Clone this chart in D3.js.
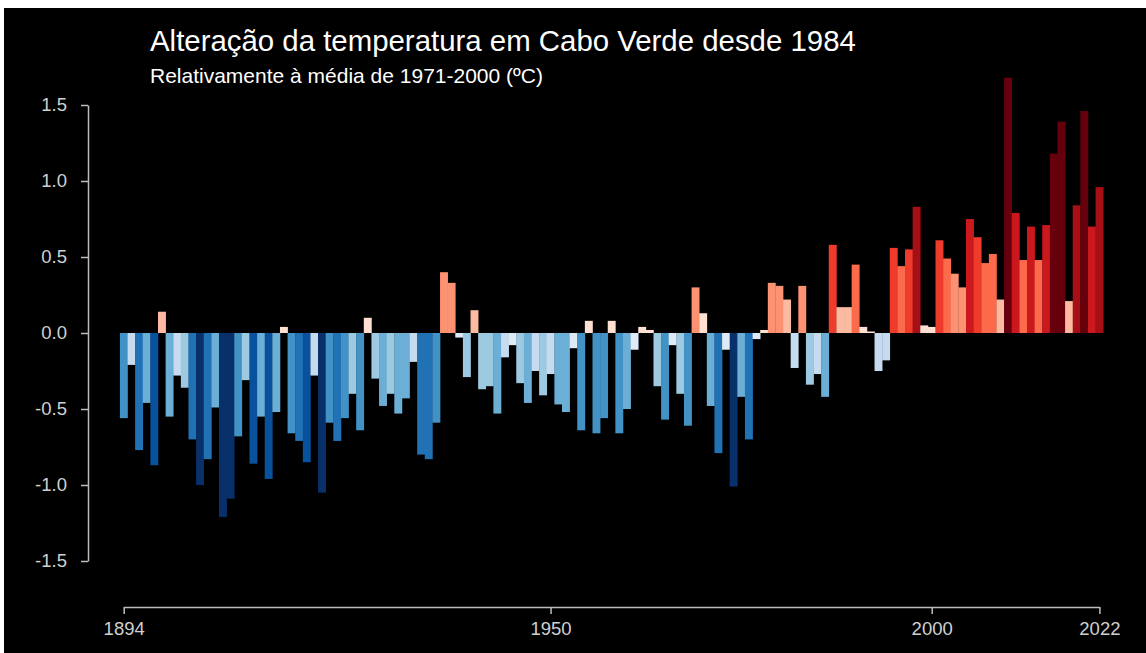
<!DOCTYPE html>
<html>
<head>
  <meta charset="utf-8">
  <title>Cabo Verde temperatura</title>
  <script src="https://d3js.org/d3.v7.min.js"></script>
  <style>
    body { margin: 0; background: #fff; }
    svg { display: block; }
  </style>
</head>
<body>
<div id="vis"></div>
<script>
  // anos e anomalias (ºC, relativamente a 1971-2000)
  var firstYear = 1894, lastYear = 2022;
  var years = d3.range(firstYear, lastYear + 1);
  var anomalies = [
    -0.56, -0.21, -0.77, -0.46, -0.87, 0.14,                          // 1894-1899
    -0.55, -0.28, -0.36, -0.70, -1.00, -0.83, -0.49, -1.21, -1.09, -0.68, // 1900s
    -0.31, -0.86, -0.55, -0.96, -0.52, 0.04, -0.66, -0.71, -0.85, -0.28,  // 1910s
    -1.05, -0.59, -0.71, -0.56, -0.40, -0.64, 0.10, -0.30, -0.48, -0.40,  // 1920s
    -0.53, -0.43, -0.19, -0.80, -0.83, -0.59, 0.40, 0.33, -0.03, -0.29,   // 1930s
    0.15, -0.37, -0.35, -0.53, -0.16, -0.08, -0.33, -0.46, -0.25, -0.41,  // 1940s
    -0.27, -0.47, -0.52, -0.10, -0.64, 0.08, -0.66, -0.56, 0.08, -0.66,   // 1950s
    -0.50, -0.11, 0.04, 0.02, -0.35, -0.57, -0.08, -0.40, -0.61, 0.30,    // 1960s
    0.13, -0.48, -0.79, -0.11, -1.01, -0.42, -0.70, -0.04, 0.02, 0.33,    // 1970s
    0.31, 0.22, -0.23, 0.31, -0.34, -0.27, -0.42, 0.58, 0.17, 0.17,       // 1980s
    0.45, 0.04, 0.01, -0.25, -0.18, 0.56, 0.44, 0.55, 0.83, 0.05,         // 1990s
    0.04, 0.61, 0.49, 0.39, 0.30, 0.75, 0.63, 0.46, 0.52, 0.22,           // 2000s
    1.68, 0.79, 0.48, 0.70, 0.48, 0.71, 1.18, 1.39, 0.21, 0.84,           // 2010s
    1.46, 0.70, 0.96                                                      // 2020-2022
  ];
  var xTicks = [1894, 1950, 2000, 2022];
  var yTicks = [-1.5, -1.0, -0.5, 0.0, 0.5, 1.0, 1.5];
  var colorBreaks = [-0.97, -0.83, -0.69, -0.55, -0.41, -0.28, -0.14, 0,
                     0.14, 0.28, 0.41, 0.55, 0.69, 0.83, 0.97];
  var stripeColors = ['#08306b', '#08519c', '#2171b5', '#4292c6', '#6baed6', '#9ecae1', '#c6dbef', '#deebf7',
                      '#fee0d2', '#fcbba1', '#fc9272', '#fb6a4a', '#ef3b2c', '#cb181d', '#a50f15', '#67000d'];
  var title = 'Alteração da temperatura em Cabo Verde desde 1984';
  var subtitle = 'Relativamente à média de 1971-2000 (ºC)';

  var data = years.map(function (y, i) { return { year: y, value: anomalies[i] }; });

  var width = 1146, height = 653;

  var svg = d3.select('#vis')
    .append('svg')
    .attr('width', width)
    .attr('height', height);

  // fundo preto (a imagem original tem uma pequena margem branca)
  svg.append('rect')
    .attr('x', 4).attr('y', 8)
    .attr('width', width - 4).attr('height', height - 8)
    .attr('fill', '#000');

  var x = d3.scaleLinear()
    .domain([firstYear, lastYear])
    .range([123.7, 1099.4]);

  var y = d3.scaleLinear()
    .domain([-1.5, 1.5])
    .range([561, 105]);

  var color = d3.scaleThreshold()
    .domain(colorBreaks)
    .range(stripeColors);

  var barW = x(firstYear + 1) - x(firstYear);

  svg.append('g')
    .selectAll('rect')
    .data(data)
    .enter()
    .append('rect')
    .attr('x', d => x(d.year) - barW / 2)
    .attr('width', barW + 0.3)
    .attr('y', d => y(Math.max(0, d.value)))
    .attr('height', d => Math.abs(y(d.value) - y(0)))
    .attr('fill', d => color(d.value));

  // eixo y
  var yAxis = svg.append('g')
    .attr('transform', 'translate(88,0)')
    .call(d3.axisLeft(y)
      .tickValues(yTicks)
      .tickSize(7)
      .tickSizeOuter(0)
      .tickPadding(14)
      .tickFormat(d3.format('.1f')));

  // eixo x
  var xAxis = svg.append('g')
    .attr('transform', 'translate(0,607)')
    .call(d3.axisBottom(x)
      .tickValues(xTicks)
      .tickSize(7)
      .tickSizeOuter(0)
      .tickPadding(8)
      .tickFormat(d3.format('d')));

  [yAxis, xAxis].forEach(function (g) {
    g.select('.domain').attr('stroke', '#bdbdbd').attr('stroke-width', 1.5);
    g.selectAll('.tick line').attr('stroke', '#bdbdbd').attr('stroke-width', 1.5);
    g.selectAll('.tick text')
      .attr('fill', '#d0d0d0')
      .style('font-family', '"Liberation Sans", Arial, sans-serif')
      .style('font-size', '18.5px');
  });
  yAxis.selectAll('.tick text').text(d => d3.format('.1f')(d).replace('−', '-'));

  svg.append('text')
    .attr('x', 150).attr('y', 51)
    .attr('fill', '#fff')
    .style('font-family', '"Liberation Sans", Arial, sans-serif')
    .style('font-size', '29.4px')
    .text(title);

  svg.append('text')
    .attr('x', 150).attr('y', 83)
    .attr('fill', '#fff')
    .style('font-family', '"Liberation Sans", Arial, sans-serif')
    .style('font-size', '21px')
    .text(subtitle);
</script>
</body>
</html>
